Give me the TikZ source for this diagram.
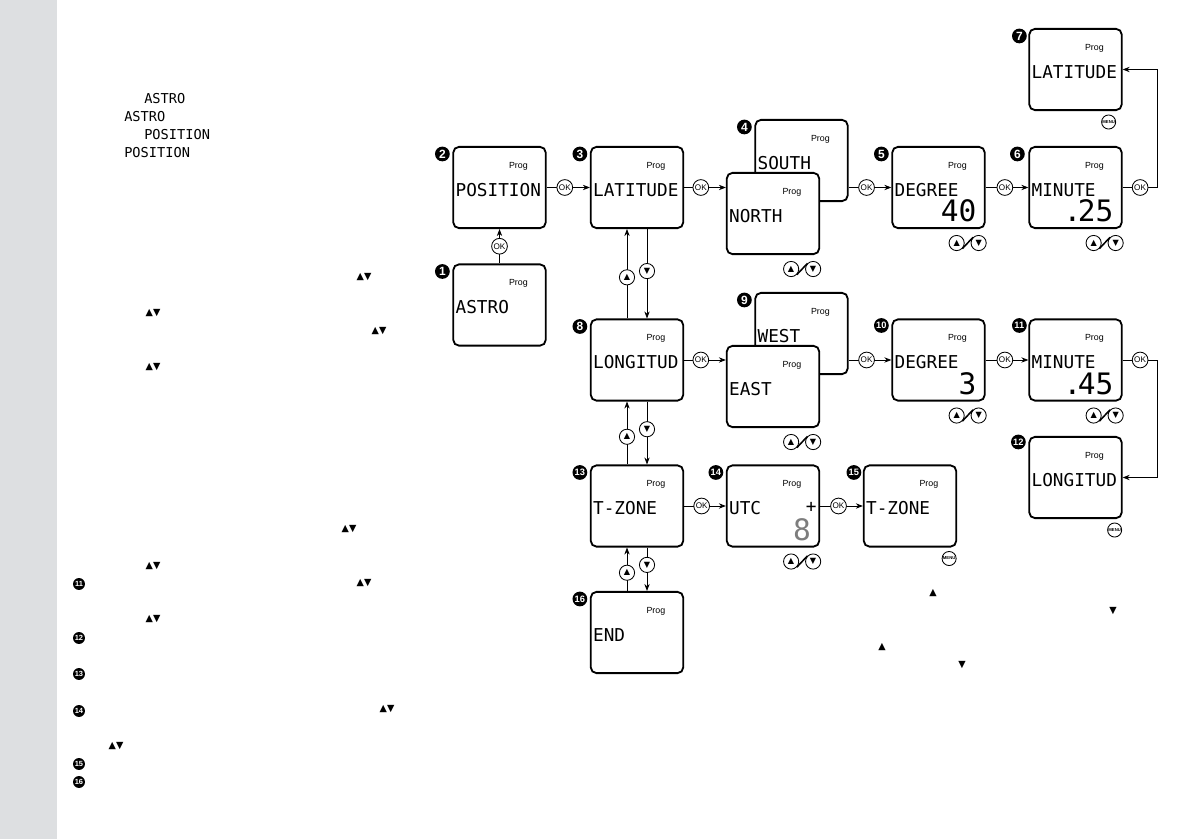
\documentclass[tikz,border=0pt]{standalone}
\usepackage{fontspec}
\setmainfont{Liberation Sans}
\newfontfamily\lcdfont{DejaVu Sans Mono}
\newfontfamily\symfont{DejaVu Sans}
\usepackage{xcolor}
\usepackage{tikz}
\usetikzlibrary{arrows.meta}
\definecolor{strip}{RGB}{221,223,225}
\definecolor{lcdgrey}{RGB}{125,125,125}
\newcommand{\tup}{{\symfont ▲}}
\newcommand{\tdn}{{\symfont ▼}}
\newcommand{\lcdscreen}[3]{%
 \node[screen](#1) at (#2) {};
 \node[prog](#1p) at ([shift={(66,20)}]#1.north west) {Prog};
 \node[lcd](#1t) at ([shift={(3,44)}]#1.north west) {#3};}
\newcommand{\updown}[1]{%
 \node[key](#1u) at ([shift={(-29,14)}]#1.south east) {\tup};
 \node[key](#1d) at ([shift={(-7,14)}]#1.south east) {\tdn};
 \draw[slash](#1u.south east)--(#1d.north west);}

\begin{document}
\begin{tikzpicture}[x=0.025cm,y=-0.025cm,>={Stealth[length=5pt,width=3.8pt]},
 screen/.style={draw,line width=1.3pt,rounded corners=4pt,fill=white,minimum width=2.31cm,minimum height=2.03cm,inner sep=0},
 prog/.style={font=\fontsize{6.3}{6.3}\selectfont,inner sep=0},
 lcd/.style={font=\lcdfont\fontsize{12.6}{13}\selectfont,anchor=west,inner sep=0},
 big/.style={font=\lcdfont\fontsize{21}{21}\selectfont,anchor=east,inner sep=0},
 small/.style={font=\lcdfont\fontsize{9.7}{10}\selectfont,anchor=west,inner sep=0},
 badge/.style={circle,fill=black,text=white,inner sep=0,minimum size=10.5pt,font=\bfseries\fontsize{8.5}{8.5}\selectfont},
 badgeii/.style={badge,font=\bfseries\fontsize{6.6}{6.6}\selectfont},
 tag/.style={circle,fill=black,text=white,inner sep=0,minimum size=8.5pt,font=\bfseries\fontsize{5.3}{5.3}\selectfont},
 okc/.style={circle,draw,fill=white,line width=0.6pt,inner sep=0,minimum size=11.2pt,font=\fontsize{5.8}{5.8}\selectfont},
 key/.style={okc,minimum size=10.8pt,font=\fontsize{5.8}{5.8}\selectfont},
 menu/.style={okc,minimum size=10pt,font=\bfseries\fontsize{3}{3}\selectfont},
 slash/.style={line width=1.1pt},
 flow/.style={->,line width=0.6pt},
 tri/.style={font=\symfont\fontsize{6.8}{6.8}\selectfont,inner sep=0}]
 \fill[white](0,0) rectangle (1191,839);
 \fill[strip](0,0) rectangle (57,839);
 \useasboundingbox (0,0) rectangle (1191,839);
 % left column
 \node[small](a1) at (144,99) {ASTRO};
 \node[small](a2) at (124,117) {ASTRO};
 \node[small](a3) at (144,135) {POSITION};
 \node[small](a4) at (124,153) {POSITION};
 \node[tri](k1) at (364,277) {▲▼};
 \node[tri](k2) at (153,313) {▲▼};
 \node[tri](k3) at (379,331) {▲▼};
 \node[tri](k4) at (153,367) {▲▼};
 \node[tri](k5) at (349,529) {▲▼};
 \node[tri](k6) at (153,566) {▲▼};
 \node[tri](k7) at (364,583) {▲▼};
 \node[tri](k8) at (153,619) {▲▼};
 \node[tri](k9) at (387,709) {▲▼};
 \node[tri](k10) at (116,746) {▲▼};
 \node[tag](n11) at (79,584) {11};
 \node[tag](n12) at (79,638) {12};
 \node[tag](n13) at (79,674) {13};
 \node[tag](n14) at (79,711) {14};
 \node[tag](n15) at (79,764) {15};
 \node[tag](n16) at (79,782) {16};
 % screens
 \lcdscreen{s1}{499.5,305}{ASTRO}
 \lcdscreen{s2}{499.5,187.5}{POSITION}
 \lcdscreen{s3}{637,187.5}{LATITUDE}
 \lcdscreen{s4b}{801.5,160.5}{SOUTH}
 \lcdscreen{s4f}{773,213.5}{NORTH}
 \lcdscreen{s5}{938.5,187.5}{DEGREE}
 \lcdscreen{s6}{1075.5,187.5}{MINUTE}
 \lcdscreen{s7}{1075.5,69.5}{LATITUDE}
 \lcdscreen{s8}{637,360}{LONGITUD}
 \lcdscreen{s9b}{801.5,333.5}{WEST}
 \lcdscreen{s9f}{773,386.5}{EAST}
 \lcdscreen{s10}{938.5,360}{DEGREE}
 \lcdscreen{s11}{1075.5,360}{MINUTE}
 \lcdscreen{s12}{1075.5,477.5}{LONGITUD}
 \lcdscreen{s13}{637,506}{T-ZONE}
 \lcdscreen{s14}{773,506}{UTC}
 \lcdscreen{s15}{910,506}{T-ZONE}
 \lcdscreen{s16}{637,632.5}{END}
 \node[big](s5v) at ([shift={(-9,65)}]s5.north east) {40};
 \node[big](s6v) at ([shift={(-9,65)}]s6.north east) {.\kern-0.12em25};
 \node[big](s10v) at ([shift={(-9,65)}]s10.north east) {3};
 \node[big](s11v) at ([shift={(-9,65)}]s11.north east) {.\kern-0.12em45};
 \node[big,text=lcdgrey](s14v) at ([shift={(-9,65)}]s14.north east) {8};
 \node[lcd,anchor=center](s14s) at ([shift={(-9,43)}]s14.north east) {+};
 % badges
 \node[badge](b1) at ([shift={(-10,8)}]s1.north west) {1};
 \node[badge](b2) at ([shift={(-10,8)}]s2.north west) {2};
 \node[badge](b3) at ([shift={(-10,8)}]s3.north west) {3};
 \node[badge](b4) at ([shift={(-10,8)}]s4b.north west) {4};
 \node[badge](b5) at ([shift={(-10,8)}]s5.north west) {5};
 \node[badge](b6) at ([shift={(-11,8)}]s6.north west) {6};
 \node[badge](b7) at ([shift={(-9,8)}]s7.north west) {7};
 \node[badge](b8) at ([shift={(-10,8)}]s8.north west) {8};
 \node[badge](b9) at ([shift={(-10,8)}]s9b.north west) {9};
 \node[badgeii](b10) at ([shift={(-10,7)}]s10.north west) {10};
 \node[badgeii](b11) at ([shift={(-9,7)}]s11.north west) {11};
 \node[badgeii](b12) at ([shift={(-10,6)}]s12.north west) {12};
 \node[badgeii](b13) at ([shift={(-10,8)}]s13.north west) {13};
 \node[badgeii](b14) at ([shift={(-10,8)}]s14.north west) {14};
 \node[badgeii](b15) at ([shift={(-9,8)}]s15.north west) {15};
 \node[badgeii](b16) at ([shift={(-10,8)}]s16.north west) {16};
 % OK steps
 \draw[flow](s1)--node[okc](ok1){OK}(s2);
 \draw[flow](s2)--node[okc,pos=0.42](ok2){OK}(s3);
 \draw[flow](s3.east)--node[okc,pos=0.4](ok3){OK}(s3.east -| s4f.west);
 \draw[flow](s4b.east |- s5.west)--node[okc,pos=0.42](ok4){OK}(s5.west);
 \draw[flow](s5)--node[okc,pos=0.45](ok5){OK}(s6);
 \draw[flow](s6.east)--node[okc](ok6){OK}++(35,0)|-(s7.east);
 \draw[flow](s8.east)--node[okc,pos=0.4](ok8){OK}(s8.east -| s9f.west);
 \draw[flow](s9b.east |- s10.west)--node[okc,pos=0.42](ok9){OK}(s10.west);
 \draw[flow](s10)--node[okc,pos=0.45](ok10){OK}(s11);
 \draw[flow](s11.east)--node[okc](ok11){OK}++(35,0)|-(s12.east);
 \draw[flow](s13)--node[okc,pos=0.42](ok13){OK}(s14);
 \draw[flow](s14)--node[okc,pos=0.43](ok14){OK}(s15);
 % up / down
 \draw[flow]([xshift=-0.25cm]s8.north)--node[key,pos=0.46](u8){\tup}([xshift=-0.25cm]s3.south);
 \draw[flow]([xshift=0.25cm]s3.south)--node[key,pos=0.47](d3){\tdn}([xshift=0.25cm]s8.north);
 \draw[flow]([xshift=-0.25cm]s13.north)--node[key,pos=0.44](u13){\tup}([xshift=-0.25cm]s8.south);
 \draw[flow]([xshift=0.25cm]s8.south)--node[key,pos=0.44](d8){\tdn}([xshift=0.25cm]s13.north);
 \draw[flow]([xshift=-0.25cm]s16.north)--node[key,pos=0.42](u16){\tup}([xshift=-0.25cm]s13.south);
 \draw[flow]([xshift=0.25cm]s13.south)--node[key,pos=0.4](d13){\tdn}([xshift=0.25cm]s16.north);
 \updown{s4f}
 \updown{s5}
 \updown{s6}
 \updown{s9f}
 \updown{s10}
 \updown{s11}
 \updown{s14}
 \node[menu](m7) at ([shift={(-14,11)}]s7.south east) {MENU};
 \node[menu](m12) at ([shift={(-8,11)}]s12.south east) {MENU};
 \node[menu](m15) at ([shift={(-8,11)}]s15.south east) {MENU};
 % loose keys
 \node[tri](t1) at (933,593) {▲};
 \node[tri](t2) at (1113,611) {▼};
 \node[tri](t3) at (882,647) {▲};
 \node[tri](t4) at (962,665) {▼};
\end{tikzpicture}
\end{document}
